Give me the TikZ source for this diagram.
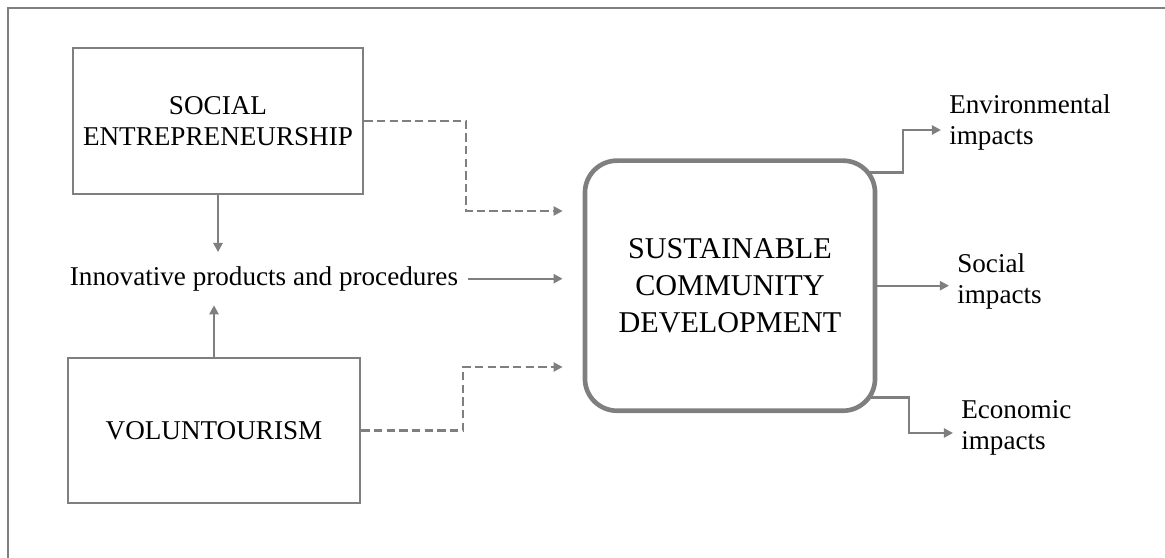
\documentclass[tikz,border=0pt]{standalone}
\usepackage{fontspec}
\setmainfont{Liberation Serif}
\usetikzlibrary{arrows.meta}
\definecolor{linegray}{HTML}{7F7F7F}

\begin{document}
\begin{tikzpicture}[x=0.025cm,y=-0.025cm,
    box/.style={draw=linegray,line width=1.8pt,align=center,font=\fontsize{19.3}{22}\selectfont},
    arr/.style={draw=linegray,line width=1.7pt,-{Triangle[length=6.5pt,width=6.5pt]}},
    dasharr/.style={arr,dash pattern=on 6pt off 3pt},
    lbl/.style={anchor=west,align=left,inner xsep=0.2cm,font=\fontsize{19.3}{22.4}\selectfont}]
    \useasboundingbox (0,0) rectangle (1165,558);
    \draw [linegray,line width=1.8pt] (8,558) -- (8,8) -- (1165,8);

    \node [box,minimum width=7.25cm,minimum height=3.65cm] (se) at (218,121) {SOCIAL\\ENTREPRENEURSHIP};
    \node [box,minimum width=7.3cm,minimum height=3.625cm] (vt) at (214,430.5) {VOLUNTOURISM};
    \node [font=\fontsize{19.3}{22}\selectfont,inner xsep=0.25cm,inner ysep=0.35cm] (inno) at (264,278.7) {Innovative products and procedures};
    \node [box,line width=3.3pt,rounded corners=0.8cm,minimum width=7.25cm,minimum height=6.25cm,
           font=\fontsize{21.45}{26.3}\selectfont] (cd) at (730,285.7) {SUSTAINABLE\\COMMUNITY\\DEVELOPMENT};

    \node [lbl] (envl) at (941,122.6) {Environmental\\impacts};
    \node [lbl] (socl) at (949,281.7) {Social\\impacts};
    \node [lbl] (ecol) at (953,428) {Economic\\impacts};

    \coordinate (k1) at (466,211);
    \coordinate (k2) at (463,367);
    \coordinate (k3) at (903,130);
    \coordinate (k4) at (909,433);
    \coordinate (o1) at ([shift={(-9,14)}]cd.north east);
    \coordinate (o3) at ([shift={(-8,-15.7)}]cd.south east);

    \draw [arr] (se.south) -- (se.south |- inno.north);
    \draw [arr] (vt.north) -- (vt.north |- inno.south);
    \draw [arr,shorten >=0.5cm] (inno.east) -- (inno.east -| cd.west);
    \draw [dasharr,shorten >=0.5cm] (se.east) -| (k1) -- (k1 -| cd.west);
    \draw [dasharr,shorten >=0.5cm] (vt.east) -| (k2) -- (k2 -| cd.west);

    \draw [arr] (o1) -| (k3) -- (k3 -| envl.west);
    \draw [arr] (cd.east) -- (cd.east -| socl.west);
    \draw [arr] (o3) -| (k4) -- (k4 -| ecol.west);
\end{tikzpicture}
\end{document}
